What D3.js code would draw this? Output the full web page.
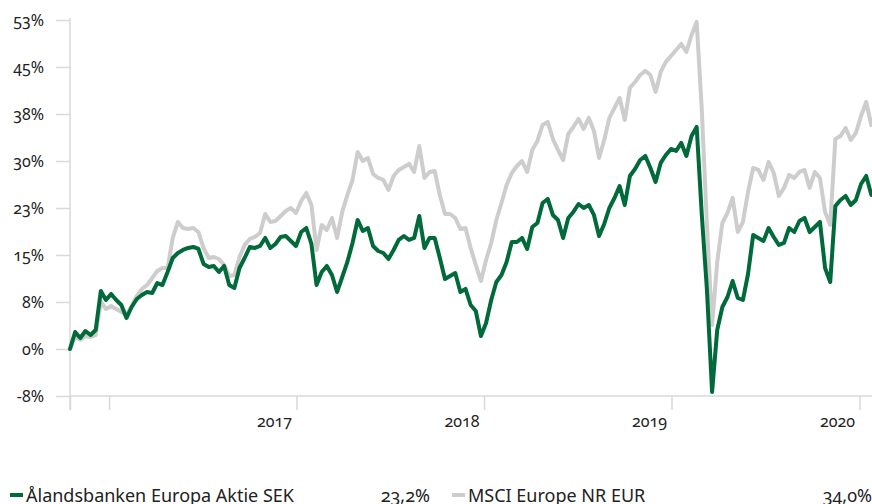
<!DOCTYPE html>
<html>
<head>
<meta charset="utf-8">
<script src="https://cdn.jsdelivr.net/npm/d3@7"></script>
<style>
  body { margin: 0; background: #fff; }
  svg { display: block; font-family: "Noto Sans", "Open Sans", sans-serif; font-variant-numeric: oldstyle-nums; }
  .axis { font-family: "Noto Sans", "Open Sans", sans-serif; }
  .axis path, .axis line { stroke: #d9d9d9; stroke-width: 1.5; }
  .axis text { fill: #222; font-size: 16px; }
  .legend text { fill: #222; font-size: 18px; }
</style>
</head>
<body>
<div id="chart"></div>
<script>
// sampled every 10 days from the start date
const startDate = "2016-10-17";
const stepDays = 10;

const fundName = "Ålandsbanken Europa Aktie SEK";
const fundReturn = "23,2%";
const fundValues = [
  0, 2.71, 1.76, 2.87, 2.23, 3.03, 9.26, 7.82, 8.78, 7.82,
  7.02, 4.95, 6.70, 7.98, 8.62, 9.10, 8.94, 10.53, 10.21, 12.29,
  14.52, 15.32, 15.80, 16.12, 16.28, 15.96, 13.57, 13.09, 13.25, 12.29,
  13.25, 10.21, 9.74, 12.93, 14.52, 16.28, 16.12, 16.44, 17.72, 16.12,
  16.76, 17.87, 18.03, 17.24, 16.44, 18.67, 19.31, 16.76, 10.21, 12.29,
  13.25, 11.81, 9.10, 11.49, 13.89, 16.92, 20.59, 18.83, 19.31, 16.44,
  15.64, 15.32, 14.36, 15.80, 17.40, 18.03, 17.40, 17.72, 21.23, 16.12,
  17.72, 17.72, 14.52, 11.17, 11.65, 12.13, 9.10, 9.58, 7.02, 6.06,
  2.07, 4.15, 7.82, 10.69, 11.81, 13.89, 17.08, 17.08, 17.72, 15.96,
  19.47, 20.11, 23.30, 23.94, 21.39, 20.59, 17.72, 20.91, 21.87, 23.14,
  22.50, 22.98, 21.39, 18.03, 19.95, 22.50, 24.10, 26.01, 22.98, 27.61,
  28.73, 30.16, 30.80, 28.89, 26.65, 29.69, 30.96, 31.92, 31.60, 32.88,
  30.80, 33.99, 35.43, 21.39, 9.42, -6.86, 3.03, 6.70, 8.30, 10.85,
  8.14, 7.82, 11.97, 18.19, 17.72, 17.24, 19.31, 17.87, 16.60, 16.92,
  19.31, 18.67, 20.43, 20.91, 18.67, 19.47, 20.27, 12.93, 10.69, 22.82,
  23.78, 24.42, 22.98, 23.78, 26.33, 27.61, 24.6
];

const indexName = "MSCI Europe NR EUR";
const indexReturn = "34,0%";
const indexValues = [
  0, 2.07, 1.44, 2.07, 1.92, 2.23, 7.50, 6.38, 6.86, 6.38,
  5.90, 5.42, 6.86, 8.46, 9.58, 10.21, 11.33, 12.45, 12.93, 12.93,
  17.72, 20.27, 19.31, 19.15, 19.31, 18.67, 16.12, 14.52, 14.68, 14.36,
  13.41, 11.65, 11.81, 14.68, 16.60, 17.56, 17.88, 18.51, 21.55, 20.27,
  20.43, 21.23, 22.02, 22.50, 21.71, 23.62, 24.90, 22.98, 15.80, 19.79,
  18.99, 20.91, 17.72, 21.87, 24.58, 26.97, 31.44, 30.00, 30.48, 27.93,
  27.29, 26.97, 25.38, 27.61, 28.57, 29.05, 29.53, 28.25, 32.40, 27.29,
  28.25, 28.41, 24.58, 21.55, 21.55, 20.91, 19.15, 19.31, 16.12, 13.41,
  10.85, 14.20, 16.92, 20.59, 23.30, 26.17, 28.09, 29.21, 30.00, 28.25,
  31.76, 33.20, 35.75, 36.23, 33.52, 31.76, 30.16, 34.31, 35.43, 36.71,
  35.11, 36.87, 34.79, 30.48, 33.36, 36.87, 38.46, 40.06, 36.55, 41.66,
  42.61, 43.73, 44.37, 43.73, 41.02, 44.21, 45.81, 46.76, 47.72, 48.68,
  47.40, 50.11, 52.19, 38.14, 19.79, 3.83, 13.89, 20.11, 21.71, 24.10,
  18.67, 20.27, 25.06, 28.89, 28.57, 26.97, 29.85, 28.09, 24.42, 25.70,
  27.77, 27.29, 28.25, 28.57, 25.70, 28.25, 27.29, 21.87, 19.79, 33.52,
  34.00, 35.27, 33.36, 34.47, 37.19, 39.42, 35.75
];

const yTicks = [-7.5, 0, 7.5, 15, 22.5, 30, 37.5, 45, 52.5];
const yTickLabels = ["-8%", "0%", "8%", "15%", "23%", "30%", "38%", "45%", "53%"];
const xTickDates = ["2016-10-17", "2017-01-01", "2018-01-01", "2019-01-01", "2020-01-01", "2021-01-01"];
const xTickLabels = ["", "", "2017", "2018", "2019", "2020"];

const width = 872, height = 504;
const plot = { left: 70, top: 20, bottom: 396 };

const parse = d3.utcParse("%Y-%m-%d");
const t0 = parse(startDate);
const dates = fundValues.map((_, i) => d3.utcDay.offset(t0, i * stepDays));

const x = d3.scaleUtc()
  .domain([t0, parse("2021-01-01")])
  .range([plot.left, 859.5]);

const y = d3.scaleLinear()
  .domain([-7.5, 52.5])
  .range([plot.bottom, plot.top]);

const svg = d3.select("#chart").append("svg")
  .attr("width", width)
  .attr("height", height);

// y axis
const yAxis = svg.append("g")
  .attr("class", "axis y-axis")
  .attr("transform", `translate(${plot.left},0)`)
  .call(d3.axisLeft(y)
    .tickValues(yTicks)
    .tickFormat((d, i) => yTickLabels[i])
    .tickSize(14)
    .tickPadding(12));
yAxis.attr("font-family", null).attr("font-size", null);
yAxis.select(".domain").remove();
yAxis.append("line")
  .attr("x1", 0).attr("x2", 0)
  .attr("y1", plot.top - 2).attr("y2", plot.bottom + 14)
  .attr("stroke", "#d9d9d9").attr("stroke-width", 1.5);

// x axis
const xAxis = svg.append("g")
  .attr("class", "axis x-axis")
  .attr("transform", `translate(0,${plot.bottom})`)
  .call(d3.axisBottom(x)
    .tickValues(xTickDates.map(parse))
    .tickFormat((d, i) => xTickLabels[i])
    .tickSize(14));
xAxis.attr("font-family", null).attr("font-size", null);
xAxis.select(".domain").remove();
xAxis.append("line")
  .attr("x1", plot.left).attr("x2", width)
  .attr("stroke", "#d9d9d9").attr("stroke-width", 1.5);
xAxis.selectAll(".tick text")
  .attr("text-anchor", "end")
  .attr("dx", -5)
  .attr("y", 20);

// lines
const line = d3.line()
  .x((d, i) => x(dates[i]))
  .y(d => y(d));

const series = [
  { name: indexName, ret: indexReturn, values: indexValues, color: "#cdcdcd" },
  { name: fundName, ret: fundReturn, values: fundValues, color: "#006a3a" }
];

svg.append("g")
  .selectAll("path")
  .data(series)
  .join("path")
  .attr("fill", "none")
  .attr("stroke", d => d.color)
  .attr("stroke-width", 4)
  .attr("stroke-linejoin", "round")
  .attr("stroke-linecap", "round")
  .attr("d", d => line(d.values));

// legend
const legendItems = [series[1], series[0]];
const legend = svg.append("g").attr("class", "legend");
legendItems.forEach((d, i) => {
  const g = legend.append("g").attr("transform", `translate(${10 + i * 442}, 502)`);
  g.append("rect")
    .attr("x", 0).attr("y", -9)
    .attr("width", 13).attr("height", 4)
    .attr("fill", d.color);
  g.append("text").attr("x", 16).text(d.name);
  g.append("text").attr("x", 420).attr("text-anchor", "end").text(d.ret);
});
</script>
</body>
</html>
